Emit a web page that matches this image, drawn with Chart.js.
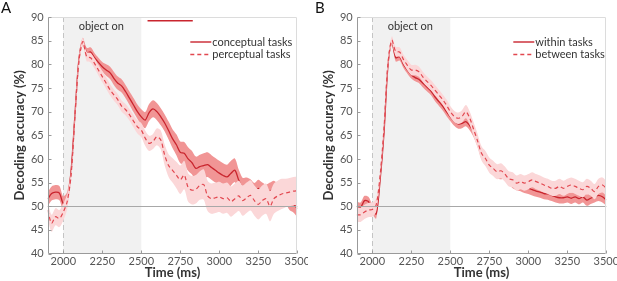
<!DOCTYPE html>
<html>
<head>
<meta charset="utf-8">
<script src="https://cdn.jsdelivr.net/npm/chart.js@4.4.0/dist/chart.umd.min.js"></script>
<style>
  body { margin: 0; background: #fff; }
  canvas { position: absolute; top: 0; }
</style>
</head>
<body>
<canvas id="panelA" width="308" height="281" style="left:0"></canvas>
<canvas id="panelB" width="308" height="281" style="left:309px"></canvas>
<script>
// time axis (ms), one sample every 25 ms
const times = [1900,1925,1950,1975,2000,2025,2050,2075,2100,2125,2150,2175,2200,2225,2250,2275,2300,2325,2350,2375,
  2400,2425,2450,2475,2500,2525,2550,2575,2600,2625,2650,2675,2700,2725,2750,2775,2800,2825,2850,2875,
  2900,2925,2950,2975,3000,3025,3050,3075,3100,3125,3150,3175,3200,3225,3250,3275,3300,3325,3350,3375,
  3400,3425,3450,3475,3500];

const xTicks = [2000, 2250, 2500, 2750, 3000, 3250, 3500];
const yTicks = [40, 45, 50, 55, 60, 65, 70, 75, 80, 85, 90];
const objectOn = [2000, 2500];
const chance = 50;

// panel A
const conceptual = [51.5,52.7,53.0,52.8,50.6, 51.5,57.5,69.5,81.0, 84.8,82.5,82.6,81.4, 80.4,79.5,78.8,78.2,
  77.0,76.0,75.4,74.2, 72.8,71.4,70.0,68.9, 68.2,69.8,70.6,70.0, 68.9,67.6,66.0,64.3, 63.0,61.4,61.2,60.0,
  59.2,58.0,58.4,58.6, 58.8,58.2,57.6,57.0, 56.5,56.2,57.0,57.6, 55.5,54.0,54.2,53.8, 53.0,53.8,53.2,52.8,
  53.2,53.6,53.0,52.8, 52.5,51.0,50.5,49.5];
const conceptualSem = [1.5,1.5,1.5,1.5,1.5, 1.5,1.0,1.0,1.0, 0.8,1.0,1.0,1.0, 1.0,1.0,1.2,1.3,
  1.4,1.4,1.4,1.4, 1.4,1.5,1.5,1.6, 1.7,1.8,1.8,1.8, 1.8,1.8,1.9,2.0, 2.2,2.3,2.4,2.5,
  2.5,2.5,2.5,2.6, 2.6,2.6,2.6,2.6, 2.6,2.6,2.6,2.5, 2.2,2.0,1.9,1.9, 1.9,1.8,1.8,1.8,
  1.8,1.8,1.8,1.8, 1.8,1.8,1.8,1.8];
const perceptual = [49.2,46.4,47.8,47.4,48.8, 51.0,56.6,69.3,80.6, 84.8,81.6,81.4,80.2, 78.8,77.4,76.0,74.6,
  73.5,72.5,71.1,70.4, 69.3,68.0,66.8,66.1, 64.4,63.3,63.7,64.7, 64.0,60.8,58.6,57.6, 56.6,55.6,56.6,54.0,
  53.4,53.6,54.4,54.6, 52.2,51.6,51.8,52.0, 51.6,51.8,51.0,51.6, 52.2,51.2,51.8,52.3, 51.2,50.4,51.2,51.6,
  50.0,51.6,52.2,52.6, 52.8,53.0,53.2,53.3];
const perceptualSem = [1.8,1.8,1.8,1.8,1.8, 1.6,1.0,1.0,1.0, 0.8,1.0,1.0,1.1, 1.1,1.2,1.2,1.2,
  1.2,1.2,1.2,1.2, 1.2,1.3,1.4,1.5, 1.6,1.6,1.6,1.8, 2.0,2.2,2.4,2.6, 2.8,3.0,3.0,3.0,
  3.0,3.0,3.0,3.2, 3.2,3.2,3.2,3.2, 3.2,3.2,3.2,3.2, 3.2,3.2,3.2,3.2, 3.2,3.2,3.2,3.2,
  3.2,3.2,3.2,3.2, 3.0,3.0,3.0,3.0];
const sigBarA = [2540, 2830];
const sigLevelA = 89.2;

// panel B
const within = [50.0,49.8,51.2,51.0,49.4, 48.4,55.5,65.5,79.5, 84.8,81.4,81.6,80.0, 78.8,77.8,77.2,76.8,
  76.0,75.2,74.4,73.2, 72.2,71.2,70.0,68.9, 68.0,67.4,67.5,67.9, 67.0,65.6,63.6,61.0, 59.8,58.7,57.8,57.0,
  56.8,56.8,56.0,55.0, 54.6,54.4,54.0,53.8, 53.5,53.2,53.0,52.7, 52.6,52.3,52.0,51.8, 51.8,52.0,51.7,52.0,
  51.6,52.0,51.3,51.7, 52.0,52.3,52.0,51.3];
const withinSem = [1.0,1.0,1.0,1.0,1.0, 1.0,0.9,0.8,0.8, 0.7,0.8,0.8,0.8, 0.8,0.8,0.8,0.8,
  0.9,0.9,0.9,0.9, 0.9,0.9,0.9,0.9, 1.0,1.0,1.0,1.0, 1.0,1.0,1.0,1.0, 1.0,1.0,1.0,1.0,
  1.1,1.1,1.2,1.2, 1.2,1.2,1.2,1.2, 1.2,1.2,1.2,1.2, 1.2,1.2,1.2,1.2, 1.2,1.2,1.2,1.2,
  1.2,1.2,1.2,1.2, 1.2,1.2,1.2,1.2];
const between = [48.2,48.2,48.8,49.2,49.3, 50.3,56.5,66.5,80.0, 85.1,82.7,82.6,81.0, 79.8,78.8,78.8,78.4,
  77.3,76.4,75.6,74.6, 73.6,72.6,71.4,70.0, 69.0,68.6,69.0,70.0, 68.6,66.2,63.8,61.2, 60.1,58.7,58.0,57.3,
  57.5,56.8,55.8,55.6, 54.9,55.2,54.9,55.2, 55.6,55.2,54.9,54.5, 54.2,53.8,53.8,54.2, 53.8,54.2,54.5,54.2,
  53.8,53.5,54.2,53.8, 53.1,54.2,54.5,53.8];
const betweenSem = [1.5,1.5,1.5,1.5,1.5, 1.4,1.0,1.0,1.0, 0.8,1.0,1.0,1.0, 1.1,1.1,1.1,1.1,
  1.1,1.1,1.1,1.1, 1.1,1.1,1.2,1.2, 1.2,1.2,1.3,1.4, 1.4,1.5,1.5,1.5, 1.6,1.6,1.6,1.6,
  1.6,1.6,1.6,1.6, 1.6,1.6,1.6,1.6, 1.6,1.6,1.6,1.6, 1.6,1.6,1.6,1.6, 1.6,1.6,1.6,1.6,
  1.6,1.6,1.6,1.6, 1.6,1.6,1.6,1.6];

const FONT = 'Lato, "Open Sans", sans-serif';
const SOLID = '#c9252e';
const DASH = '#e2474f';
const DARK_BAND = '#f19595';
const PALE_BAND = '#fbd7d8';

const panelDecor = {
  id: 'panelDecor',
  beforeDatasetsDraw(chart, args, o) {
    const {ctx, chartArea: a, scales: {x, y}} = chart;
    const x0 = x.getPixelForValue(objectOn[0]);
    const x1 = x.getPixelForValue(objectOn[1]);
    ctx.save();
    ctx.fillStyle = '#f1f1f1';
    ctx.fillRect(x0, a.top, x1 - x0, a.bottom - a.top);
    ctx.strokeStyle = '#c4c4c4';
    ctx.lineWidth = 1;
    ctx.setLineDash([5, 3]);
    ctx.beginPath();
    ctx.moveTo(Math.round(x0) + 0.5, a.top);
    ctx.lineTo(Math.round(x0) + 0.5, a.bottom);
    ctx.stroke();
    ctx.setLineDash([]);
    ctx.fillStyle = '#333';
    ctx.font = '11px ' + FONT;
    ctx.textAlign = 'center';
    ctx.textBaseline = 'middle';
    ctx.fillText('object on', (x0 + x1) / 2 - 1, a.top + 9);
    ctx.restore();
  },
  afterDatasetsDraw(chart, args, o) {
    const {ctx, chartArea: a, scales: {x, y}} = chart;
    ctx.save();
    // chance level
    const yc = Math.round(y.getPixelForValue(chance)) + 0.5;
    ctx.strokeStyle = '#a8a8a8';
    ctx.lineWidth = 1;
    ctx.beginPath();
    ctx.moveTo(a.left, yc);
    ctx.lineTo(a.right, yc);
    ctx.stroke();
    // frame
    const L = Math.round(a.left) + 0.5, R = Math.round(a.right) - 0.5;
    const T = Math.round(a.top) + 0.5, B = Math.round(a.bottom) - 0.5;
    ctx.strokeStyle = '#dcdcdc';
    ctx.beginPath();
    ctx.moveTo(L, T); ctx.lineTo(R, T); ctx.lineTo(R, B);
    ctx.stroke();
    ctx.strokeStyle = '#9a9a9a';
    ctx.beginPath();
    ctx.moveTo(L, T); ctx.lineTo(L, B); ctx.lineTo(R, B);
    for (const v of xTicks) {
      const px = Math.round(x.getPixelForValue(v)) + 0.5;
      ctx.moveTo(px, B); ctx.lineTo(px, B - 3);
    }
    for (const v of yTicks) {
      const py = Math.round(y.getPixelForValue(v)) + 0.5;
      ctx.moveTo(L, py); ctx.lineTo(L + 3, py);
    }
    ctx.stroke();
    // significance bar
    if (o.sig) {
      const ys = y.getPixelForValue(o.sigLevel);
      ctx.strokeStyle = SOLID;
      ctx.lineWidth = 1.5;
      ctx.beginPath();
      ctx.moveTo(x.getPixelForValue(o.sig[0]), ys);
      ctx.lineTo(x.getPixelForValue(o.sig[1]), ys);
      ctx.stroke();
    }
    // legend
    const lx = a.right - o.legendRight;
    ctx.font = '11px ' + FONT;
    ctx.textAlign = 'left';
    ctx.textBaseline = 'middle';
    o.legend.forEach((txt, i) => {
      const ly = a.top + 25 + i * 12.5;
      ctx.strokeStyle = i === 0 ? SOLID : DASH;
      ctx.lineWidth = 1.4;
      ctx.setLineDash(i === 0 ? [] : [4, 3]);
      ctx.beginPath();
      ctx.moveTo(lx, ly);
      ctx.lineTo(lx + 21, ly);
      ctx.stroke();
      ctx.setLineDash([]);
      ctx.fillStyle = '#333';
      ctx.fillText(txt, lx + 22, ly);
    });
    // panel letter
    ctx.font = '15px ' + FONT;
    ctx.fillStyle = '#111';
    ctx.textAlign = 'left';
    ctx.textBaseline = 'alphabetic';
    ctx.fillText(o.letter, o.letterX, 13);
    ctx.restore();
  }
};

function bandPoints(mean, sem, sign) {
  return mean.map((m, i) => ({x: times[i], y: m + sign * sem[i]}));
}
function linePoints(mean) {
  return mean.map((m, i) => ({x: times[i], y: m}));
}

function buildPanel(canvasId, p) {
  const common = {pointRadius: 0, tension: 0.3};
  return new Chart(document.getElementById(canvasId), {
    type: 'line',
    data: {
      datasets: [
        {...common, label: p.legend[1] + ' hi', data: bandPoints(p.dashMean, p.dashSem, 1), fill: '+1',
          backgroundColor: PALE_BAND, borderColor: 'transparent', borderWidth: 0, order: 2},
        {...common, label: p.legend[1] + ' lo', data: bandPoints(p.dashMean, p.dashSem, -1), fill: false,
          borderColor: 'transparent', borderWidth: 0, order: 2},
        {...common, label: p.legend[1], data: linePoints(p.dashMean), fill: false,
          borderColor: DASH, borderWidth: 1.2, borderDash: [4, 3], order: 1},
        {...common, label: p.legend[0] + ' hi', data: bandPoints(p.solidMean, p.solidSem, 1), fill: '+1',
          backgroundColor: DARK_BAND, borderColor: 'transparent', borderWidth: 0, order: 4},
        {...common, label: p.legend[0] + ' lo', data: bandPoints(p.solidMean, p.solidSem, -1), fill: false,
          borderColor: 'transparent', borderWidth: 0, order: 4},
        {...common, label: p.legend[0], data: linePoints(p.solidMean), fill: false,
          borderColor: SOLID, borderWidth: 1.3, order: 3}
      ]
    },
    options: {
      responsive: false,
      animation: false,
      layout: {padding: {top: 17, right: 10.7, left: 0, bottom: 0}},
      plugins: {
        legend: {display: false},
        tooltip: {enabled: false},
        panelDecor: p.decor
      },
      scales: {
        x: {
          type: 'linear', min: 1900, max: 3500,
          afterBuildTicks: s => { s.ticks = xTicks.map(v => ({value: v})); },
          afterFit: s => { s.height = 27.4; s.paddingLeft = 0; s.paddingRight = 0; },
          grid: {display: false, drawTicks: false},
          border: {display: false},
          ticks: {color: '#555', font: {family: FONT, size: 11}, padding: 1, maxRotation: 0,
            callback: v => String(v)},
          title: {display: true, text: 'Time (ms)', color: '#333',
            font: {family: FONT, size: 13, weight: 'bold'}, padding: {top: 0, bottom: 0}}
        },
        y: {
          min: 40, max: 90,
          afterBuildTicks: s => { s.ticks = yTicks.map(v => ({value: v})); },
          afterFit: s => { s.width = 47.7; s.paddingTop = 0; s.paddingBottom = 0; },
          grid: {display: false, drawTicks: false},
          border: {display: false},
          ticks: {color: '#555', font: {family: FONT, size: 11}, padding: 4},
          title: {display: true, text: 'Decoding accuracy (%)', color: '#333',
            font: {family: FONT, size: 13, weight: 'bold'}, padding: {top: 12, bottom: 0}}
        }
      }
    },
    plugins: [panelDecor]
  });
}

buildPanel('panelA', {
  solidMean: conceptual, solidSem: conceptualSem,
  dashMean: perceptual, dashSem: perceptualSem,
  legend: ['conceptual tasks', 'perceptual tasks'],
  decor: {letter: 'A', letterX: 1, legendRight: 107, legend: ['conceptual tasks', 'perceptual tasks'],
    sig: sigBarA, sigLevel: sigLevelA}
});
buildPanel('panelB', {
  solidMean: within, solidSem: withinSem,
  dashMean: between, dashSem: betweenSem,
  legend: ['within tasks', 'between tasks'],
  decor: {letter: 'B', letterX: 6, legendRight: 93, legend: ['within tasks', 'between tasks'],
    sig: null}
});
</script>
</body>
</html>
